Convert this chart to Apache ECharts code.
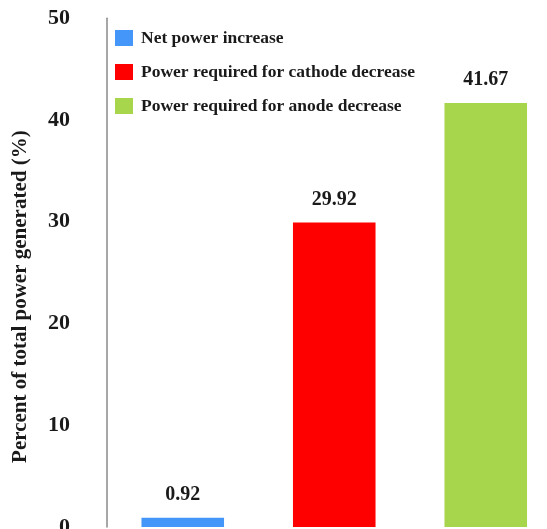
<!DOCTYPE html>
<html>
<head>
<meta charset="utf-8">
<script src="https://cdn.jsdelivr.net/npm/echarts@6/dist/echarts.min.js"></script>
<style>
  html, body { margin: 0; padding: 0; background: #fff; }
  #chart { width: 547px; height: 529px; }
</style>
</head>
<body>
<div id="chart"></div>
<script>
// Share of total generated power, per effect
const categories = ['Net', 'Cathode', 'Anode'];
const seriesNames = [
  'Net power increase',
  'Power required for cathode decrease',
  'Power required for anode decrease'
];
const seriesValues = [0.92, 29.92, 41.67];
const seriesColors = ['#4496F8', '#FF0000', '#A7D54B'];
const yTicks = { min: 0, max: 50, interval: 10 };

const serif = '"Liberation Serif", "Times New Roman", serif';

// one series per category so each bar gets its own legend entry
const series = seriesNames.map((name, i) => ({
  name: name,
  type: 'bar',
  stack: 'all',
  barWidth: '54.5%',
  data: categories.map((c, j) => (j === i ? seriesValues[i] : '-')),
  itemStyle: { color: seriesColors[i] },
  label: {
    show: true,
    position: 'top',
    distance: 13,
    formatter: (p) => p.value.toFixed(2),
    fontFamily: serif,
    fontWeight: 'bold',
    fontSize: 20,
    color: '#1a1a1a'
  }
}));

const chart = echarts.init(document.getElementById('chart'));
chart.setOption({
  animation: false,
  backgroundColor: '#ffffff',
  grid: {
    left: 107,
    right: -14.5,
    top: 18.3,
    bottom: 2,
    outerBoundsMode: 'none',
    containLabel: false
  },
  legend: {
    orient: 'vertical',
    left: 115,
    top: 29,
    padding: 0,
    itemWidth: 18,
    itemHeight: 16,
    itemGap: 16,
    icon: 'rect',
    data: seriesNames,
    textStyle: {
      fontFamily: serif,
      fontWeight: 'bold',
      fontSize: 17.5,
      color: '#1a1a1a',
      padding: [0, 0, 0, 3]
    }
  },
  xAxis: {
    type: 'category',
    data: categories,
    axisLine: { show: false },
    axisTick: { show: false },
    axisLabel: { show: false },
    splitLine: { show: false }
  },
  yAxis: {
    type: 'value',
    min: yTicks.min,
    max: yTicks.max,
    interval: yTicks.interval,
    name: 'Percent of total power generated (%)',
    nameLocation: 'middle',
    nameGap: 76,
    nameTextStyle: {
      fontFamily: serif,
      fontWeight: 'bold',
      fontSize: 21,
      color: '#1a1a1a',
      padding: [0, 48, 0, 0]
    },
    axisLine: { show: true, lineStyle: { color: '#8a8a8a', width: 1.5 } },
    axisTick: { show: false },
    splitLine: { show: false },
    axisLabel: {
      margin: 37,
      fontFamily: serif,
      fontWeight: 'bold',
      fontSize: 22,
      color: '#1a1a1a'
    }
  },
  series: series
});
</script>
</body>
</html>
